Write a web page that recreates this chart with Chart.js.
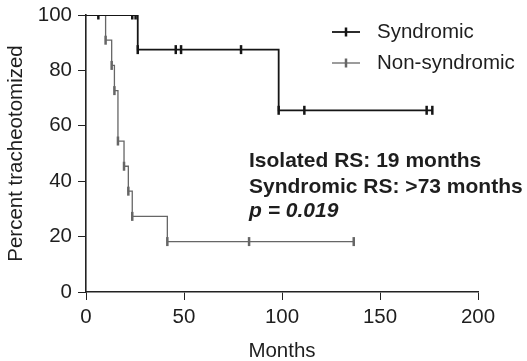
<!DOCTYPE html>
<html>
<head>
<meta charset="utf-8">
<script src="https://cdn.jsdelivr.net/npm/chart.js@4/dist/chart.umd.min.js"></script>
<style>
  body { margin: 0; background: #fff; }
  #wrap { width: 527px; height: 361px; position: relative; }
</style>
</head>
<body>
<div id="wrap"><canvas id="km"></canvas></div>
<script>
// Kaplan-Meier steps (months, percent)
const synTimes = [0, 26.4, 98.3, 176.7];
const synSurv = [100, 87.5, 65.6, 65.6];
const synCensorTimes = [6.3, 23.6, 25.3, 26.4, 45.8, 48.5, 79.1, 98.3, 111.4, 173.8, 176.7];
const synCensorSurv = [100, 100, 100, 87.5, 87.5, 87.5, 87.5, 65.6, 65.6, 65.6, 65.6];

const nonTimes = [0, 10, 13.1, 14.5, 16.3, 19.4, 21.6, 23.6, 41.5, 136.6];
const nonSurv = [100, 90.9, 81.8, 72.7, 54.5, 45.4, 36.4, 27.3, 18.2, 18.2];
const nonCensorTimes = [10, 13.1, 14.5, 16.3, 19.4, 21.6, 23.6, 41.5, 83.2, 136.6];
const nonCensorSurv = [90.9, 81.8, 72.7, 54.5, 45.4, 36.4, 27.3, 18.2, 18.2, 18.2];

const seriesNames = ['Syndromic', 'Non-syndromic'];
const noteLines = ['Isolated RS: 19 months', 'Syndromic RS: >73 months', 'p = 0.019'];

const SYN_COLOR = '#151515';
const NON_COLOR = '#666666';
const TEXT_COLOR = '#1e1e1e';
const FONT = '"Liberation Sans", Arial, sans-serif';
const FONT_SIZE = 20.5;

const toPoints = (xs, ys) => xs.map((x, i) => ({ x: x, y: ys[i] }));

const censorStyle = (color) => ({
  showLine: false,
  pointStyle: 'line',
  rotation: 90,
  pointRadius: 4.5,
  pointBorderWidth: 2.5,
  pointBorderColor: color,
  borderColor: color,
});

// legend + annotation drawn on top of the chart
const extras = {
  id: 'extras',
  afterDraw(chart) {
    const ctx = chart.ctx;
    ctx.save();
    const colors = [SYN_COLOR, NON_COLOR];
    const rows = [32, 63];
    ctx.font = FONT_SIZE + 'px ' + FONT;
    ctx.textBaseline = 'middle';
    for (let i = 0; i < 2; i++) {
      const y = rows[i];
      ctx.strokeStyle = colors[i];
      ctx.lineWidth = i === 0 ? 1.8 : 1.3;
      ctx.beginPath();
      ctx.moveTo(332, y);
      ctx.lineTo(360, y);
      ctx.stroke();
      ctx.lineWidth = 2.5;
      ctx.beginPath();
      ctx.moveTo(346, y - 4.5);
      ctx.lineTo(346, y + 4.5);
      ctx.stroke();
      ctx.fillStyle = TEXT_COLOR;
      ctx.fillText(seriesNames[i], 377, y);
    }
    ctx.font = 'bold 21px ' + FONT;
    ctx.fillText(noteLines[0], 249, 161);
    ctx.fillText(noteLines[1], 249, 187);
    ctx.font = 'italic bold 21px ' + FONT;
    ctx.fillText(noteLines[2], 249, 211);
    ctx.restore();
  },
};

new Chart(document.getElementById('km'), {
  type: 'line',
  data: {
    datasets: [
      {
        data: toPoints(synTimes, synSurv),
        borderColor: SYN_COLOR,
        borderWidth: 1.8,
        stepped: 'before',
        pointRadius: 0,
        fill: false,
      },
      {
        data: toPoints(nonTimes, nonSurv),
        borderColor: NON_COLOR,
        borderWidth: 1.3,
        stepped: 'before',
        pointRadius: 0,
        fill: false,
      },
      Object.assign({ data: toPoints(synCensorTimes, synCensorSurv) }, censorStyle(SYN_COLOR)),
      Object.assign({ data: toPoints(nonCensorTimes, nonCensorSurv) }, censorStyle(NON_COLOR)),
    ],
  },
  options: {
    responsive: true,
    maintainAspectRatio: false,
    animation: false,
    layout: { padding: { left: 0, right: 49, top: 15, bottom: 0 } },
    plugins: { legend: { display: false }, tooltip: { enabled: false } },
    scales: {
      x: {
        type: 'linear',
        min: 0,
        max: 200,
        ticks: { stepSize: 50, color: TEXT_COLOR, font: { family: FONT, size: FONT_SIZE }, padding: 5 },
        grid: { drawOnChartArea: false, tickLength: 8, color: '#222' },
        border: { color: '#222', width: 1.6 },
        title: { display: true, text: 'Months', color: TEXT_COLOR, font: { family: FONT, size: FONT_SIZE }, padding: { top: 4, bottom: -3 } },
        afterFit(scale) {
          scale.height = 69;
          scale.paddingLeft = 0;
          scale.paddingRight = 0;
        },
      },
      y: {
        min: 0,
        max: 100,
        ticks: { stepSize: 20, color: TEXT_COLOR, font: { family: FONT, size: FONT_SIZE }, padding: 6 },
        grid: { drawOnChartArea: false, tickLength: 8, color: '#222' },
        border: { color: '#222', width: 1.6 },
        title: { display: true, text: 'Percent tracheotomized', color: TEXT_COLOR, font: { family: FONT, size: FONT_SIZE }, padding: { top: 4, bottom: 3 } },
        afterFit(scale) {
          scale.width = 86;
          scale.paddingTop = 0;
          scale.paddingBottom = 0;
        },
      },
    },
  },
  plugins: [extras],
});
</script>
</body>
</html>
